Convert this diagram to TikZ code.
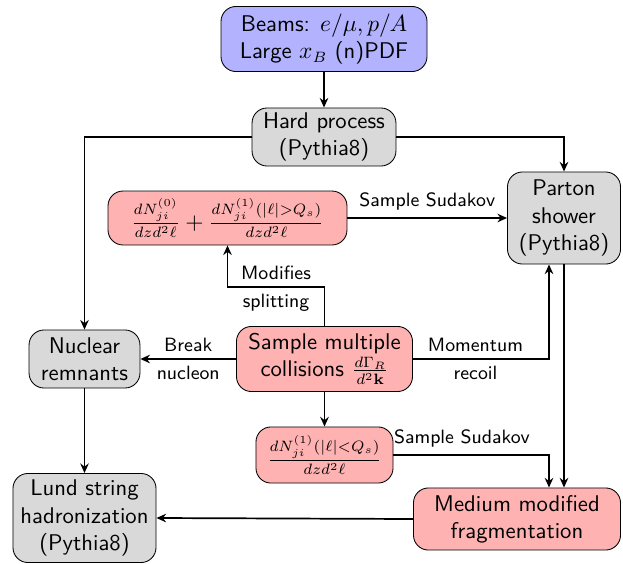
\documentclass[tikz,border=0pt]{standalone}
\usetikzlibrary{arrows.meta,calc}
\begin{document}
\begin{tikzpicture}[x=0.467pt,y=-0.467pt,
  box/.style={draw, rounded corners=7pt, align=center, font=\sffamily\fontsize{10.6}{12.7}\selectfont, thin, inner sep=0pt},
  bluebox/.style={box, fill=blue!30},
  graybox/.style={box, fill=gray!30},
  redbox/.style={box, fill=red!30},
  conn/.style={thick, -{Stealth[length=4.5pt,width=4pt,inset=1.5pt]}},
  lbl/.style={font=\sffamily\small, inner sep=3pt}]
\useasboundingbox (0,0) rectangle (623,564);
\node[bluebox, minimum width=96.2pt, minimum height=30.4pt] (beams) at (324,39)
  {Beams: $e/\mu, p/A$\\Large $x_B$ (n)PDF};
\node[graybox, minimum width=67.2pt, minimum height=27.1pt] (hard) at (324,137)
  {Hard process\\(Pythia8)};
\node[graybox, minimum width=52.8pt, minimum height=43pt] (parton) at (564,218)
  {Parton\\shower\\(Pythia8)};
\node[redbox, minimum width=111.6pt, minimum height=25.2pt] (f1) at (227.5,218)
  {$\frac{dN^{(0)}_{ji}}{dzd^2\ell}+\frac{dN^{(1)}_{ji}(|\ell|>Q_s)}{dzd^2\ell}$};
\node[graybox, minimum width=51.8pt, minimum height=27.1pt] (nuclear) at (84.5,359)
  {Nuclear\\remnants};
\node[redbox, minimum width=82.2pt, minimum height=30.4pt] (sample) at (324.5,359)
  {Sample multiple\\collisions $\frac{d\Gamma_R}{d^2\mathbf{k}}$};
\node[redbox, minimum width=64pt, minimum height=26.2pt] (f2) at (324.5,455)
  {$\frac{dN^{(1)}_{ji}(|\ell|<Q_s)}{dzd^2\ell}$};
\node[graybox, minimum width=66.8pt, minimum height=41.6pt] (lund) at (84.5,518)
  {Lund string\\hadronization\\(Pythia8)};
\node[redbox, minimum width=96.7pt, minimum height=29pt] (medium) at (517,519)
  {Medium modified\\fragmentation};

\coordinate (mk) at (227.5,287);
\coordinate (ps) at ($(parton.south)+(-15,0)$);

\draw[conn] (beams) -- (hard);
\draw[conn] (hard.west) -| (nuclear.north);
\draw[conn] (hard.east) -| (parton.north);
\draw[conn] (f1.east) -- node[lbl, above] (l1) {Sample Sudakov} (f1.east -| parton.west);
\draw[conn] (sample.north) |- (mk) -- (f1.south);
\node[lbl, above] (l2) at ($(mk)!0.5!(mk -| sample.north)$) {Modifies};
\node[lbl, below] (l3) at ($(mk)!0.5!(mk -| sample.north)$) {splitting};
\draw[conn] (sample.west) -- node[lbl, above] (l4) {Break} node[lbl, below] (l5) {nucleon} (nuclear.east);
\draw[conn] (sample.east) -| node[lbl, above, pos=0.23] (l6) {Momentum} node[lbl, below, pos=0.23] (l7) {recoil} (ps);
\draw[conn] (parton.south) -- (parton.south |- medium.north);
\draw[conn] (sample.south) -- (f2.north);
\draw[conn] (f2.east) -| node[lbl, above, pos=0.22] (l8) {Sample Sudakov} (ps |- medium.north);
\draw[conn] (nuclear.south) -- (lund.north);
\draw[conn] (medium.west) -- (lund.east);
\end{tikzpicture}
\end{document}
